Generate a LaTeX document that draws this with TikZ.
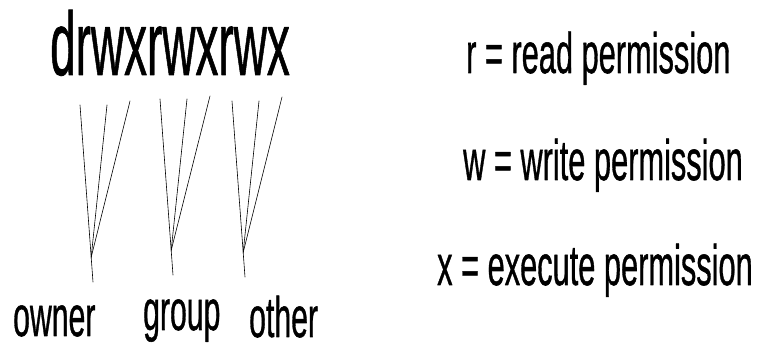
\documentclass[tikz,border=0pt]{standalone}
\usepackage{fontspec}
\setmainfont{Liberation Sans}[FakeBold=1]
\usetikzlibrary{calc}

\begin{document}
\begin{tikzpicture}[x=1pt, y=-1pt, line width=0.6pt, line cap=round, line join=round,
  bigtext/.style={inner sep=0pt, anchor=base west, xscale=0.51, font=\fontsize{90}{90}\selectfont},
  legend/.style={inner sep=0pt, anchor=base west, xscale=0.54, font=\fontsize{57}{57}\selectfont},
  who/.style={inner sep=0pt, anchor=base west, xscale=0.53, font=\fontsize{57}{57}\selectfont}]
  \useasboundingbox (0,0) rectangle (758,344);
  % --- permission string ---
  \node[bigtext] (perm) at (50,75) {drwxrwxrwx};
  % --- owner ---
  \coordinate (O1) at (80,105);
  \coordinate (O2) at (107,105);
  \coordinate (O3) at (130,101);
  \coordinate (Obot) at (93,282);
  \coordinate (Omeet) at ($(O1)!0.86!(Obot)$);
  \draw (O1) -- (Obot);
  \draw (O2) -- (Omeet);
  \draw (O3) -- (Omeet);
  % --- group ---
  \coordinate (G1) at (160,99);
  \coordinate (G2) at (187,99);
  \coordinate (G3) at (210,96);
  \coordinate (Gbot) at (173,275);
  \coordinate (Gmeet) at ($(G1)!0.86!(Gbot)$);
  \draw (G1) -- (Gbot);
  \draw (G2) -- (Gmeet);
  \draw (G3) -- (Gmeet);
  % --- other ---
  \coordinate (T1) at (232,101);
  \coordinate (T2) at (259,101);
  \coordinate (T3) at (282,97);
  \coordinate (Tbot) at (245,277);
  \coordinate (Tmeet) at ($(T1)!0.86!(Tbot)$);
  \draw (T1) -- (Tbot);
  \draw (T2) -- (Tmeet);
  \draw (T3) -- (Tmeet);
  % --- labels ---
  \node[who] (owner) at (13,336) {owner};
  \node[who] (group) at (143,330) {group};
  \node[who] (other) at (249,337) {other};
  % --- legend ---
  \node[legend] (read) at (466,73) {r = read permission};
  \node[legend] (write) at (463,180) {w = write permission};
  \node[legend] (exec) at (437,285) {x = execute permission};
\end{tikzpicture}
\end{document}
